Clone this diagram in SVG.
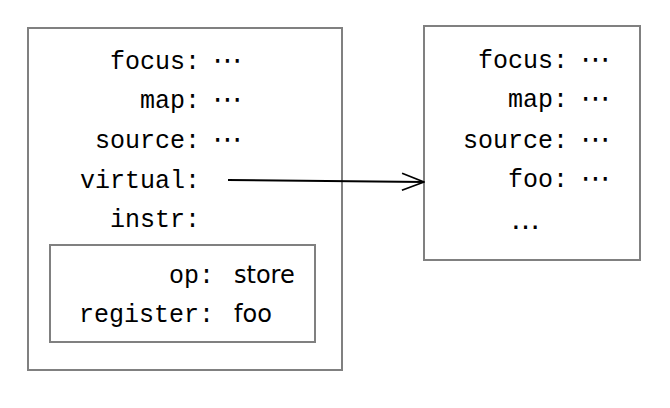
<svg xmlns="http://www.w3.org/2000/svg" width="670" height="408" viewBox="0 0 670 408">
<style>
.box{fill:none;stroke:#808080;stroke-width:2}
.tt{font-family:"Liberation Mono",monospace;font-size:25px;fill:#000;text-anchor:end}
.dots{font-family:"DejaVu Sans",sans-serif;font-size:29px;fill:#000}
.sf{font-family:"DejaVu Sans","Liberation Sans",sans-serif;font-size:24px;fill:#000}
.edge{fill:none;stroke:#000;stroke-width:2}
</style>
<defs>
<marker id="arrow" viewBox="0 0 24 20" refX="23" refY="10" markerWidth="24" markerHeight="20" markerUnits="userSpaceOnUse" orient="auto">
<path d="M1,1.5 L23,10 L1,18.5" fill="none" stroke="#000" stroke-width="1.8"/>
</marker>
</defs>
<g id="node-left">
<rect class="box" x="28" y="28" width="314" height="342"/>
<text class="tt" x="200" y="69">focus:</text><text class="dots" x="213" y="70">⋯</text>
<text class="tt" x="200" y="108">map:</text><text class="dots" x="213" y="109">⋯</text>
<text class="tt" x="200" y="148">source:</text><text class="dots" x="213" y="149">⋯</text>
<text class="tt" x="200" y="188">virtual:</text>
<text class="tt" x="200" y="227">instr:</text>
</g>
<g id="node-instr">
<rect class="box" x="50" y="245" width="265" height="97"/>
<text class="tt" x="214" y="283">op:</text><text class="sf" x="234" y="283">store</text>
<text class="tt" x="214" y="322">register:</text><text class="sf" x="234" y="322">foo</text>
</g>
<g id="node-right">
<rect class="box" x="424" y="26" width="216" height="234"/>
<text class="tt" x="568" y="68">focus:</text><text class="dots" x="581" y="69">⋯</text>
<text class="tt" x="568" y="107">map:</text><text class="dots" x="581" y="108">⋯</text>
<text class="tt" x="568" y="148">source:</text><text class="dots" x="581" y="149">⋯</text>
<text class="tt" x="568" y="187">foo:</text><text class="dots" x="581" y="188">⋯</text>
<text class="dots" x="511" y="229">…</text>
</g>
<g id="connectors">
<path class="edge" d="M228,180 L424,182" marker-end="url(#arrow)"/>
</g>
</svg>
